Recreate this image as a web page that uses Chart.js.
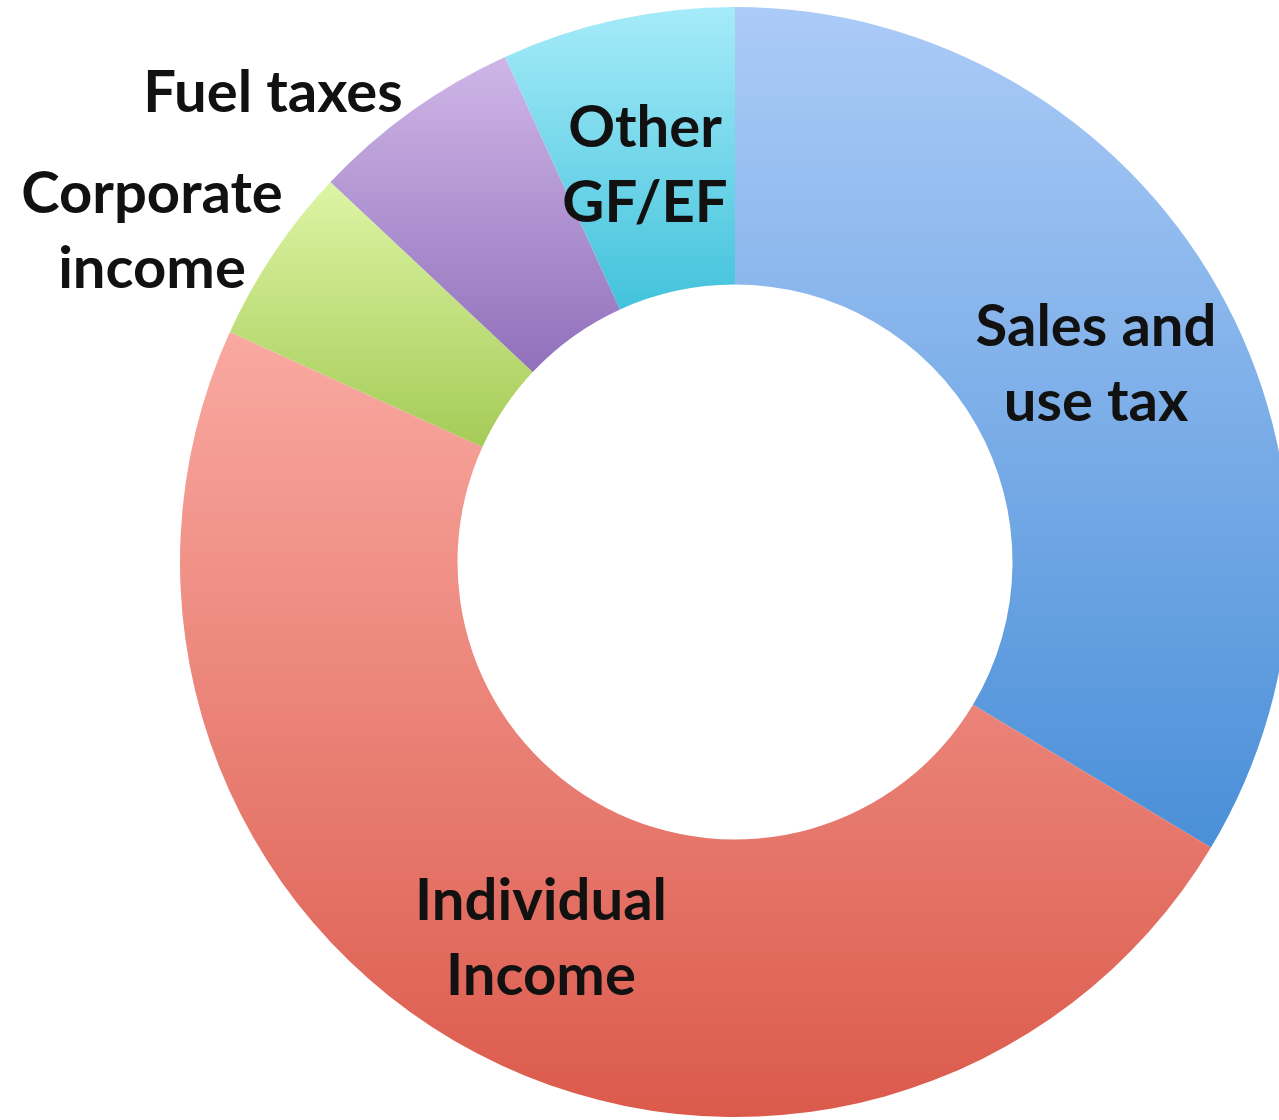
<!DOCTYPE html>
<html>
<head>
<meta charset="utf-8">
<script src="https://cdn.jsdelivr.net/npm/chart.js@4"></script>
<style>
html, body { margin: 0; padding: 0; background: #fff; overflow: hidden; }
#wrap { width: 1302px; height: 1120px; }
</style>
</head>
<body>
<div id="wrap"><canvas id="revChart" width="1302" height="1120"></canvas></div>
<script>
// revenue shares, clockwise from 12 o'clock
const categories = ['Sales and use tax', 'Individual Income', 'Corporate income', 'Fuel taxes', 'Other GF/EF'];
const shares = [33.6, 48.2, 5.2, 6.2, 6.8];
const labelLines = [['Sales and', 'use tax'], ['Individual', 'Income'], ['Corporate', 'income'], ['Fuel taxes'], ['Other', 'GF/EF']];

// light (top) -> dark (bottom) shade per slice
const topColors = ['#abcbf7', '#f9a9a1', '#ddf5a5', '#cfb6e7', '#a6ebf9'];
const bottomColors = ['#4a8fd8', '#db5a4c', '#a5cb57', '#9070bb', '#42c2db'];

// where each label sits (canvas px)
const labelPos = [[1096, 327], [541, 901], [152, 194], [273, 93], [645, 128]];

function sliceGradient(c) {
  const chart = c.chart;
  const area = chart.chartArea;
  const i = c.dataIndex;
  if (!area) return topColors[i];
  const cx = (area.left + area.right) / 2;
  const cy = (area.top + area.bottom) / 2;
  const r = Math.min(area.right - area.left, area.bottom - area.top) / 2;
  const total = shares.reduce((a, b) => a + b, 0);
  let start = 0;
  for (let k = 0; k < i; k++) start += shares[k];
  const a0 = start / total * Math.PI * 2 - Math.PI / 2;
  const a1 = (start + shares[i]) / total * Math.PI * 2 - Math.PI / 2;
  let yMin = Infinity, yMax = -Infinity;
  for (let s = 0; s <= 60; s++) {
    const a = a0 + (a1 - a0) * s / 60;
    [r, r * 0.5].forEach(rr => {
      const y = cy + Math.sin(a) * rr;
      yMin = Math.min(yMin, y);
      yMax = Math.max(yMax, y);
    });
  }
  const g = chart.ctx.createLinearGradient(0, yMin, 0, yMax);
  g.addColorStop(0, topColors[i]);
  g.addColorStop(1, bottomColors[i]);
  return g;
}

const sliceLabels = {
  id: 'sliceLabels',
  afterDatasetsDraw(chart) {
    const ctx = chart.ctx;
    ctx.save();
    ctx.font = 'bold 58px Lato, "Open Sans", sans-serif';
    ctx.fillStyle = '#111';
    ctx.textAlign = 'center';
    ctx.textBaseline = 'middle';
    labelLines.forEach((lines, i) => {
      lines.forEach((t, j) => {
        ctx.fillText(t, labelPos[i][0], labelPos[i][1] + j * 75);
      });
    });
    ctx.restore();
  }
};

new Chart(document.getElementById('revChart'), {
  type: 'doughnut',
  data: {
    labels: categories,
    datasets: [{
      data: shares,
      backgroundColor: sliceGradient,
      borderWidth: 0
    }]
  },
  options: {
    responsive: false,
    animation: false,
    cutout: '50%',
    layout: { padding: { left: 180, right: 12, top: 7, bottom: 3 } },
    plugins: {
      legend: { display: false },
      tooltip: { enabled: false }
    }
  },
  plugins: [sliceLabels]
});
</script>
</body>
</html>
